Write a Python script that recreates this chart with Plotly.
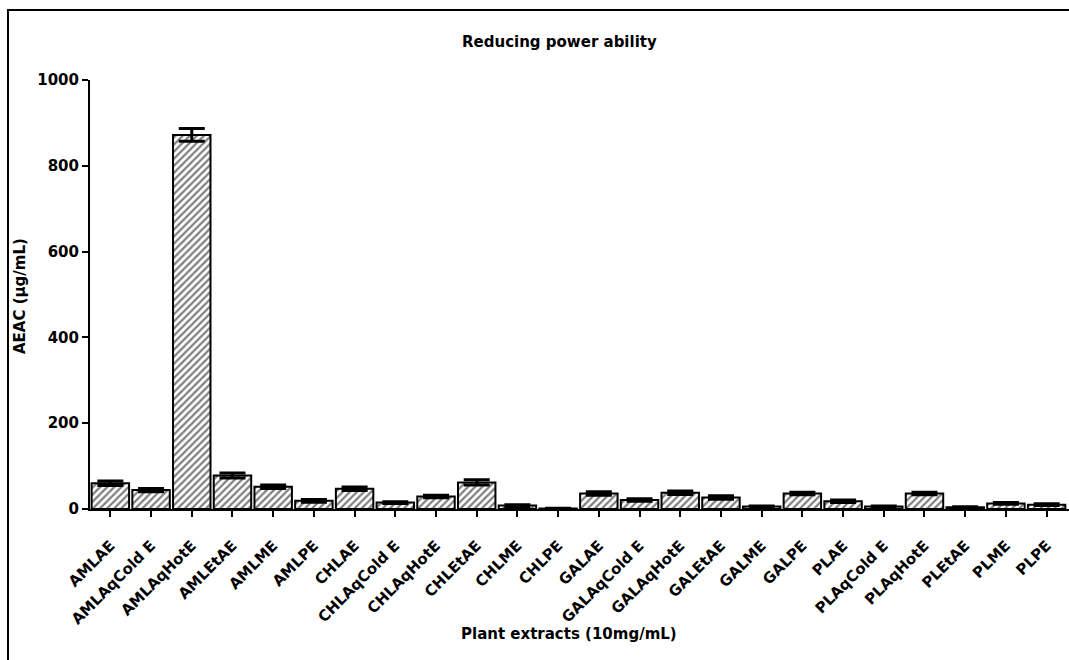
import plotly.graph_objects as go

categories = ["AMLAE", "AMLAqCold E", "AMLAqHotE", "AMLEtAE", "AMLME", "AMLPE",
              "CHLAE", "CHLAqCold E", "CHLAqHotE", "CHLEtAE", "CHLME", "CHLPE",
              "GALAE", "GALAqCold E", "GALAqHotE", "GALEtAE", "GALME", "GALPE",
              "PLAE", "PLAqCold E", "PLAqHotE", "PLEtAE", "PLME", "PLPE"]
aeac_values = [60, 44, 872, 78, 52, 19,
               47, 15, 29, 62, 8, 1,
               36, 21, 38, 27, 6, 36,
               18, 6, 36, 4, 13, 10]
aeac_errors = [5, 4, 15, 6, 4, 3,
               4, 2, 3, 6, 2, 0.5,
               4, 3, 4, 4, 1, 3,
               3, 1, 3, 1, 2, 2]
y_ticks = [0, 200, 400, 600, 800, 1000]

FONT = "DejaVu Sans, Arial, sans-serif"
W, H = 1069, 660
ML, MR, MT, MB = 90, 0, 80, 151
pw = W - ML - MR
ph = H - MT - MB


def px_x(xr):
    return (xr - ML) / pw


def px_y(yr):
    return (H - MB - yr) / ph


fig = go.Figure()
fig.add_trace(go.Bar(
    x=list(range(len(categories))),
    y=aeac_values,
    width=0.92,
    marker=dict(color="white",
                line=dict(color="black", width=2),
                pattern=dict(shape="/", fgcolor="black", bgcolor="white",
                             size=5, solidity=0.45)),
    error_y=dict(type="data", array=aeac_errors, visible=True,
                 color="black", thickness=3, width=13),
))

fig.update_layout(
    width=W, height=H,
    margin=dict(l=ML, r=MR, t=MT, b=MB, pad=0),
    paper_bgcolor="white", plot_bgcolor="white",
    showlegend=False,
    font=dict(family=FONT, size=15, color="black"),
    xaxis=dict(
        range=[-0.5, 23.55],
        tickmode="array",
        tickvals=list(range(len(categories))),
        ticktext=categories,
        tickangle=-45,
        ticklabelstandoff=14,
        tickfont=dict(family=FONT, size=15, color="black", weight="bold"),
        ticks="outside", ticklen=6, tickwidth=2, tickcolor="black",
        showline=True, linecolor="black", linewidth=2,
        showgrid=False, zeroline=False,
    ),
    yaxis=dict(
        range=[0, 1000],
        tickmode="array",
        tickvals=y_ticks,
        tickfont=dict(family=FONT, size=15, color="black", weight="bold"),
        ticks="outside", ticklen=6, tickwidth=2, tickcolor="black",
        showline=True, linecolor="black", linewidth=2,
        showgrid=False, zeroline=False,
    ),
    annotations=[
        dict(text="<b>Reducing power ability</b>", x=px_x(559), y=px_y(42),
             xref="paper", yref="paper", showarrow=False,
             xanchor="center", yanchor="middle",
             font=dict(family=FONT, size=15, color="black")),
        dict(text="<b>AEAC (µg/mL)</b>", x=px_x(20), y=px_y(296),
             xref="paper", yref="paper", showarrow=False, textangle=-90,
             xanchor="center", yanchor="middle",
             font=dict(family=FONT, size=15, color="black")),
        dict(text="<b>Plant extracts (10mg/mL)</b>", x=px_x(569), y=px_y(634),
             xref="paper", yref="paper", showarrow=False,
             xanchor="center", yanchor="middle",
             font=dict(family=FONT, size=15, color="black")),
    ],
    shapes=[
        dict(type="rect", xref="paper", yref="paper",
             x0=px_x(8), x1=px_x(1120),
             y0=px_y(720), y1=px_y(10),
             line=dict(color="black", width=2), fillcolor="rgba(0,0,0,0)",
             layer="below"),
    ],
)

fig.write_html(
    "out.html",
    config={"displayModeBar": False},
    post_script="document.body.style.margin='0';document.body.style.overflow='hidden';",
)
